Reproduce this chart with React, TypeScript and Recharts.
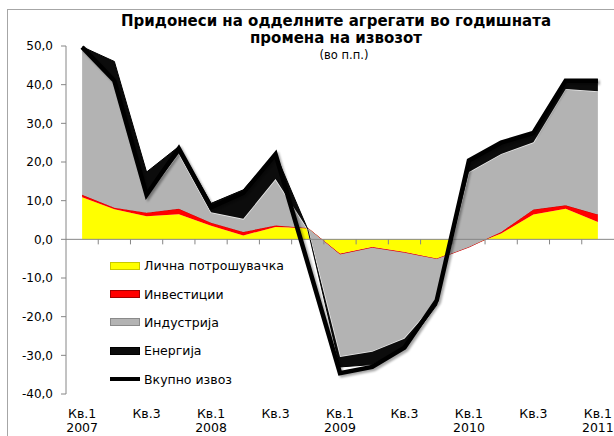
import { ComposedChart, Area, Line, XAxis, YAxis, ReferenceLine } from "recharts";

const quarters = [
  "Кв.1 2007", "Кв.2 2007", "Кв.3 2007", "Кв.4 2007",
  "Кв.1 2008", "Кв.2 2008", "Кв.3 2008", "Кв.4 2008",
  "Кв.1 2009", "Кв.2 2009", "Кв.3 2009", "Кв.4 2009",
  "Кв.1 2010", "Кв.2 2010", "Кв.3 2010", "Кв.4 2010",
  "Кв.1 2011",
];

// contributions, in percentage points
const lichna = [10.9, 7.8, 6.0, 6.5, 3.5, 1.0, 3.2, 2.9, -3.7, -2.0, -3.3, -5.0, -1.8, 1.5, 6.4, 7.9, 4.5];
const investicii = [0.6, 0.4, 0.9, 1.4, 0.8, 0.9, 0.4, 0.0, -0.2, -0.2, -0.2, -0.1, -0.2, 0.4, 1.3, 0.9, 1.9];
const industrija = [38.2, 32.9, 4.3, 14.3, 2.7, 3.4, 12.0, -0.3, -26.5, -26.9, -22.2, -11.1, 19.4, 20.2, 17.4, 30.1, 31.9];
const energija = [0.1, 4.9, 6.2, 1.8, 2.3, 7.5, 6.5, 0.0, -2.6, -3.3, -2.5, -0.8, 3.0, 3.0, 2.6, 2.4, 3.0];
const vkupno = [49.7, 41.0, 11.5, 23.5, 8.3, 12.0, 22.0, -6.2, -34.6, -33.0, -28.0, -15.8, 20.4, 25.0, 27.5, 41.0, 41.0];

const yTicks = [-40, -30, -20, -10, 0, 10, 20, 30, 40, 50];

const series = [
  { key: "lichna", name: "Лична потрошувачка", fill: "#ffff00", stroke: "none", sw: 0, box: "#c9c900" },
  { key: "investicii", name: "Инвестиции", fill: "#ff0000", stroke: "#d00000", sw: 1, box: "#a00000" },
  { key: "industrija", name: "Индустрија", fill: "#b3b3b3", stroke: "#ececec", sw: 1.5, box: "#8a8a8a" },
  { key: "energija", name: "Енергија", fill: "#0c0c0c", stroke: "#000000", sw: 1, box: "#000000" },
];

const data = quarters.map((q, i) => ({
  idx: i,
  q,
  lichna: lichna[i],
  investicii: investicii[i],
  industrija: industrija[i],
  energija: energija[i],
  vkupno: vkupno[i],
}));

const labelIdx = quarters.map((_, i) => i).filter((i) => i % 2 === 0);
const boundaries = quarters.slice(1).map((_, i) => i + 0.5);

const FONT = '"DejaVu Sans", Verdana, sans-serif';
const AXIS = "#868686";

function QuarterTick({ x, y, payload }: any) {
  const [kv, year] = quarters[payload.value].split(" ");
  return (
    <text x={x} y={y} textAnchor="middle" fontFamily={FONT} fontSize={12.5} fill="#000">
      <tspan x={x} dy={24}>{kv}</tspan>
      {kv === "Кв.1" && <tspan x={x} dy={14}>{year}</tspan>}
    </text>
  );
}

function LegendBox() {
  const row = { display: "flex", alignItems: "center", height: 28.4 } as const;
  return (
    <div style={{ position: "absolute", left: 110, top: 251.5, fontFamily: FONT, fontSize: 12.5, color: "#000" }}>
      {series.map((s) => (
        <div key={s.key} style={row}>
          <div
            style={{
              width: 28,
              height: 6,
              background: s.fill,
              border: `1px solid ${s.box}`,
              marginRight: 4,
            }}
          />
          <span>{s.name}</span>
        </div>
      ))}
      <div style={row}>
        <div style={{ width: 30, height: 4, background: "#000", marginRight: 4 }} />
        <span>Вкупно извоз</span>
      </div>
    </div>
  );
}

export default function App() {
  return (
    <div
      style={{
        position: "absolute",
        left: 0,
        top: 0,
        width: 614,
        height: 436,
        overflow: "hidden",
        background: "#fff",
        fontFamily: FONT,
      }}
    >
      <div style={{ position: "absolute", left: 7, top: 9, width: 700, height: 600, border: "1px solid #a6a6a6" }} />
      <div
        style={{
          position: "absolute",
          left: 36,
          top: 13.3,
          width: 600,
          textAlign: "center",
          fontWeight: "bold",
          fontSize: 15,
          lineHeight: "17px",
        }}
      >
        Придонеси на одделните агрегати во годишната
        <br />
        промена на извозот
      </div>
      <div
        style={{
          position: "absolute",
          left: 44,
          top: 48.5,
          width: 600,
          textAlign: "center",
          fontSize: 11.5,
          lineHeight: "13px",
        }}
      >
        (во п.п.)
      </div>

      <div style={{ position: "absolute", left: 0, top: 0 }}>
        <ComposedChart width={614} height={436} data={data} margin={{ top: 46, right: 0, bottom: 12, left: 8 }}>
          <defs>
            <filter id="lineShadow" x="-10%" y="-10%" width="120%" height="120%">
              <feDropShadow dx="2" dy="2" stdDeviation="1.2" floodColor="#000" floodOpacity="0.35" />
            </filter>
          </defs>
          <XAxis
            dataKey="idx"
            type="number"
            domain={[-0.5, quarters.length - 0.5]}
            ticks={labelIdx}
            interval={0}
            axisLine={false}
            tickLine={false}
            tickSize={0}
            tickMargin={0}
            height={30}
            tick={<QuarterTick />}
          />
          <YAxis
            domain={[-40, 50]}
            ticks={yTicks}
            interval={0}
            width={58}
            tickSize={5}
            tickMargin={8}
            axisLine={{ stroke: AXIS }}
            tickLine={{ stroke: AXIS }}
            tick={{ fontSize: 12, fill: "#000", fontFamily: FONT }}
            tickFormatter={(v: number) => v.toFixed(1).replace(".", ",")}
          />
          {series.map((s) => (
            <Area
              key={s.key}
              type="linear"
              dataKey={s.key}
              name={s.name}
              stackId="s"
              fill={s.fill}
              fillOpacity={1}
              stroke={s.stroke}
              strokeWidth={s.sw}
              isAnimationActive={false}
            />
          ))}
          <ReferenceLine y={0} stroke={AXIS} strokeWidth={1} />
          {boundaries.map((b) => (
            <ReferenceLine
              key={b}
              segment={[
                { x: b, y: 0 },
                { x: b, y: -1.3 },
              ]}
              stroke={AXIS}
            />
          ))}
          <Line
            type="linear"
            dataKey="vkupno"
            name="Вкупно извоз"
            stroke="#000"
            strokeWidth={4.5}
            dot={false}
            activeDot={false}
            filter="url(#lineShadow)"
            isAnimationActive={false}
          />
        </ComposedChart>
      </div>

      <LegendBox />
    </div>
  );
}
